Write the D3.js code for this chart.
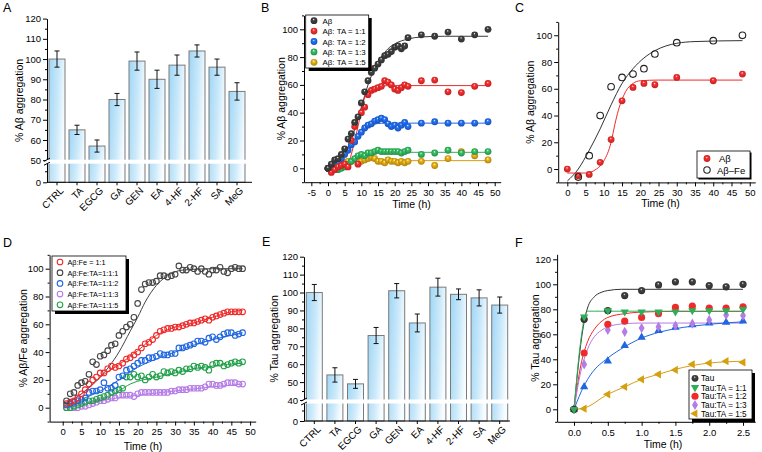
<!DOCTYPE html>
<html><head><meta charset="utf-8">
<script src="https://cdn.jsdelivr.net/npm/d3@7"></script>
<style>
body{margin:0;background:#fff;}
svg{display:block;font-family:"Liberation Sans",Arial,sans-serif;}
</style></head><body>
<svg id="c" width="762" height="452"></svg>
<script>
// ---------- DATA ----------
const barCats = ["CTRL","TA","EGCG","GA","GEN","EA","4-HF","2-HF","SA","MeG"];
const abBarVals = [100,65,57,80,99,90,97,104,96,84];
const abBarErr  = [4,2.3,3,3,4.5,4.5,5,3,4,4.3];
const tauBarVals = [100,54,49,76,101,83,103,99,97,93];
const tauBarErr  = [4.5,4,2.5,4.5,4,5,5,3,4.5,4.5];

const bTimes = [0,1,2,3,4,5,6,7,8,9,10,11,12,13,14,15,16,17,18,19,20,21,22,23,24,28,32,36,40,44,48];
const bAb   = [0,3,6,7,10,14,21,25,33,37,47,55,63,69,72,75,78,81,82,84,87,88,86,88,94,96,95,98,93,96,100];
const bTA11 = [0,-3,-1,1,2,3,1,20,30,3,40,44,53,56,57,58,59,63,62,60,57,56,58,60,59,63,63.5,55,54.5,59,61];
const bTA12 = [0,2,3,4,7,10,13,17,19,23,26,29,31,32,34,35,36,35,32,30,31,29,31,33,30,32.5,33.5,32.5,32.5,32.5,33.5];
const bTA13 = [0,-2,-1,-1,0,1,3,5,7,9,10,9,11,11,12,13,12,12,12,12,12,12,11,12,13,10,11,13,11,12,12];
const bTA15 = [0,1,2,3,3,4,5,5,6,5,5,6,7,8,7,5,5,4,6,5,5,4,5,4,5,5,2,7,12,9,6];
const bFitAb   = [[0,-3],[2,0],[4,6],[6,15],[8,28],[10,44],[12,60],[14,72],[16,80],[18,86],[20,89.5],[24,93],[28,94.5],[35,95],[48,95]];
const bFitTA11 = [[0,-2],[4,-1.5],[6,3],[7,10],[8,20],[9,30],[10,42],[11,51],[12,56],[14,59],[20,59.5],[48,59.5]];
const bFitTA12 = [[0,-1],[2,1],[4,5],[6,11],[8,19],[10,26],[12,30],[14,32],[18,32.5],[48,32.5]];
const bFitTA13 = [[0,-2],[3,0],[5,3],[7,6.5],[9,9.5],[11,11],[14,11.5],[48,11.5]];
const bFitTA15 = [[0,0],[2,2],[4,3.5],[6,4.5],[8,5],[12,5.5],[48,5.5]];
const bNames = ["Aβ","Aβ: TA = 1:1","Aβ: TA = 1:2","Aβ: TA = 1:3","Aβ: TA = 1:5"];

const cTimes   = [0,3,6,9,12,15,18,21,24,30,40,48];
const cAb      = [0,-5,-4,5,22,51,61,64,63,68.5,66,71];
const cFeTimes = [3,6,9,12,15,18,21,24,30,40,48];
const cAbFe    = [-6,10,40,61.5,68.5,71,75,86,94.5,96,100];
const cFitAb   = [[0,-3],[5,-3],[8,0],[10,6],[12,20],[13,33],[14,44],[15,52],[16,58],[18,64],[20,66],[25,66.5],[48,66.5]];
const cFitAbFe = [[0,-9],[3,0],[6,14],[9,30],[12,48],[15,64],[18,75],[21,83],[24,88.5],[27,92],[30,94],[35,95.3],[48,96]];

const dTimes = [1,2,3,4,5,6,7,8,9,10,11,12,13,14,15,16,17,18,19,20,21,22,23,24,25,26,27,28,29,30,31,32,33,34,35,36,37,38,39,40,41,42,43,44,45,46,47,48];
const dFe11  = [3,4,5,7,10,13,17,20,22,25,25,28,30,29,30,32,35,36,38,40,43,46,47,49,52,55,56,57,57,58,58,59,60,61,61,62,63,64,63,65,66,67,68,69,69,69,69,69];
const dTA111 = [5,10,11,16,18,19,24,33,31,37,38,41,45,46,52,55,58,60,65,75,85,89,90,90,91,95,95,94,95,96,102,99,99,101,100,98,100,98,96,99,99,101,98,97,100,101,100,100];
const dTA112 = [2,3,4,5,6,7,11,12,12,13,18,14,14,16,22,23,27,28,30,32,34,34,36,36,37,39,38,38,39,39,43,43,44,45,46,48,48,47,50,51,49,51,53,54,54,52,53,54];
const dTA113 = [0,0,0,0,1,1,2,3,4,5,5,6,7,7,9,9,9,9,8,10,11,11,11,11,11,11,11,11,12,12,13,13,13,14,14,14,14,15,17,17,16,16,17,18,18,18,17,17];
const dTA115 = [0,0,1,2,3,4,5,5,6,7,8,9,11,12,13,14,22,22,24,22,23,20,22,24,22,23,26,25,26,25,27,26,28,28,30,29,30,29,27,31,32,32,30,31,32,33,32,33];
const dFitFe11  = [[1,3],[5,10],[10,22],[15,31],[20,41],[25,52],[30,58],[35,61],[40,65],[45,69],[48,70]];
const dFitTA111 = [[1,3],[5,10],[10,22],[15,40],[18,55],[20,65],[22,76],[25,88],[28,95],[32,99],[40,100],[48,100]];
const dFitTA112 = [[1,2],[5,6],[10,12],[15,20],[20,29],[25,35],[30,40],[35,45],[40,49],[45,52],[48,54]];
const dFitTA113 = [[1,0],[10,5],[20,9],[30,12],[40,15],[48,17]];
const dFitTA115 = [[1,0],[5,2],[10,6],[15,12],[18,17],[20,19],[25,22],[30,25],[35,28],[40,30],[48,32]];
const dNames = ["Aβ:Fe = 1:1","Aβ:Fe:TA=1:1:1","Aβ:Fe:TA=1:1:2","Aβ:Fe:TA=1:1:3","Aβ:Fe:TA=1:1:5"];

const fTimes = [0,0.15,0.5,0.75,1.0,1.25,1.5,1.75,2.0,2.25,2.5];
const fTau   = [0,72,79,91,95,99.5,102,102,99,98,100];
const fTA11  = [0,74,79,78,78,78,78,79,79,79,80];
const fTA12  = [0,45,68,70.5,73.5,76.5,81.5,82.5,81,81,82];
const fTA13  = [0,36,63.5,62,65,66,67,68.5,71.5,75.5,75];
const fTA14  = [0,18,38.5,51,57.5,63,65.5,67.5,69,69.5,70.5];
const fTA15  = [0,0.5,12,18,24,28,31.5,36,37,38.5,37.5];
const fFitTau  = [[0,0],[0.05,28],[0.1,52],[0.15,70],[0.2,81],[0.3,90],[0.4,93.5],[0.5,95],[0.7,96],[2.5,96]];
const fFitTA11 = [[0,0],[0.1,55],[0.15,72],[0.2,78.5],[0.3,78.5],[2.5,78.5]];
const fFitTA12 = [[0,0],[0.1,35],[0.2,54],[0.3,64],[0.4,70],[0.5,73.5],[0.75,76.5],[1,77.8],[1.5,78.3],[2.5,78.3]];
const fFitTA13 = [[0,0],[0.1,30],[0.2,48],[0.3,58],[0.4,63],[0.5,66],[0.75,68.5],[1,69],[2.5,69]];
const fFitTA14 = [[0,0],[0.15,19],[0.25,28],[0.5,41],[0.75,50],[1,57],[1.25,61.5],[1.5,64.5],[1.75,66.5],[2,68],[2.5,70]];
const fFitTA15 = [[0,0],[0.15,1],[0.5,12],[0.75,18],[1,24],[1.25,28],[1.5,32],[1.75,35],[2,37],[2.25,38],[2.5,38.5]];
const fNames = ["Tau","Tau:TA = 1:1","Tau:TA = 1:2","Tau:TA = 1:3","Tau:TA = 1:5"];

// ---------- SETUP ----------
const svg = d3.select("#c");
const defs = svg.append("defs");
const COL = {black:"#3a3a3a", red:"#ee2a2a", blue:"#1f66e0", green:"#2fae5a", gold:"#d4a010", purple:"#b57be6", dgreen:"#22a04a"};

const bg = defs.append("linearGradient").attr("id","barGrad").attr("x1","0").attr("y1","0").attr("x2","1").attr("y2","0.35");
bg.append("stop").attr("offset","0%").attr("stop-color","#9ed6f6");
bg.append("stop").attr("offset","60%").attr("stop-color","#cbe9fa");
bg.append("stop").attr("offset","100%").attr("stop-color","#f6fcff");

function sphereGrad(id, color){
  const g = defs.append("radialGradient").attr("id",id).attr("cx","50%").attr("cy","50%").attr("r","55%").attr("fx","45%").attr("fy","30%");
  g.append("stop").attr("offset","0%").attr("stop-color","#ffffff");
  g.append("stop").attr("offset","28%").attr("stop-color",d3.color(color).brighter(0.4));
  g.append("stop").attr("offset","100%").attr("stop-color",d3.color(color).darker(0.7));
}
Object.entries(COL).forEach(([k,v])=>sphereGrad("sph-"+k,v));

function txt(s,x,y,size,opts={}){
  const t = svg.append("text").attr("x",x).attr("y",y).attr("font-size",size).attr("fill","#000").text(s);
  if(opts.anchor) t.attr("text-anchor",opts.anchor);
  if(opts.rot) t.attr("transform",`rotate(${opts.rot},${x},${y})`);
  return t;
}
const fmtInt = d => String(d);

function styleAxis(g){
  g.selectAll("text").attr("font-size",9.5).attr("fill","#000").attr("font-family",'"Liberation Sans",Arial,sans-serif');
  g.selectAll("line,path").attr("stroke","#000").attr("stroke-width",1);
}

function xyAxes(x,y,xt,xm,yt,ym,fx){
  const yb = y.range()[0], xl = x.range()[0];
  styleAxis(svg.append("g").attr("transform",`translate(0,${yb})`)
    .call(d3.axisBottom(x).tickValues(xt).tickFormat(fx||fmtInt).tickSize(4).tickSizeOuter(0).tickPadding(3)));
  const m1 = svg.append("g").attr("transform",`translate(0,${yb})`)
    .call(d3.axisBottom(x).tickValues(xm).tickFormat("").tickSize(2).tickSizeOuter(0));
  m1.select(".domain").remove(); styleAxis(m1);
  styleAxis(svg.append("g").attr("transform",`translate(${xl},0)`)
    .call(d3.axisLeft(y).tickValues(yt).tickFormat(fmtInt).tickSize(4).tickSizeOuter(0).tickPadding(2)));
  const m2 = svg.append("g").attr("transform",`translate(${xl},0)`)
    .call(d3.axisLeft(y).tickValues(ym).tickFormat("").tickSize(2).tickSizeOuter(0));
  m2.select(".domain").remove(); styleAxis(m2);
}

function fitLine(x,y,pts,color,w){
  svg.append("path").datum(pts).attr("fill","none").attr("stroke",color).attr("stroke-width",w||1)
    .attr("d",d3.line().x(d=>x(d[0])).y(d=>y(d[1])).curve(d3.curveMonotoneX));
}
function spheres(x,y,ts,vs,key,r){
  svg.append("g").selectAll("circle").data(vs).join("circle")
    .attr("cx",(d,i)=>x(ts[i])).attr("cy",d=>y(d)).attr("r",r)
    .attr("fill",`url(#sph-${key})`);
}
function openCircles(x,y,ts,vs,color,r){
  svg.append("g").selectAll("circle").data(vs).join("circle")
    .attr("cx",(d,i)=>x(ts[i])).attr("cy",d=>y(d)).attr("r",r)
    .attr("fill","none").attr("stroke",color).attr("stroke-width",1.1);
}
function symbols(x,y,ts,vs,type,rot,color,size){
  svg.append("g").selectAll("path").data(vs).join("path")
    .attr("d",d3.symbol().type(type).size(size))
    .attr("transform",(d,i)=>`translate(${x(ts[i])},${y(d)}) rotate(${rot})`)
    .attr("fill",color);
}
function legendBox(x,y,w,h,sh){
  if(sh) svg.append("rect").attr("x",x+sh).attr("y",y+sh).attr("width",w).attr("height",h).attr("fill","#000");
  svg.append("rect").attr("x",x).attr("y",y).attr("width",w).attr("height",h).attr("fill","#fff").attr("stroke","#000").attr("stroke-width",0.8);
}

// ---------- BAR PANELS ----------
function barPanel(vals,errs,yScale,xRange,axisEnd,yt,ym,brk,titleX,title){
  const x = d3.scaleBand().domain(barCats).range(xRange).padding(0);
  const y0 = yScale.range()[0], xl = xRange[0], bw = 16;
  const cx = c => x(c)+x.bandwidth()/2;
  svg.append("g").selectAll("rect").data(vals).join("rect")
    .attr("x",(d,i)=>cx(barCats[i])-bw/2).attr("y",d=>yScale(d))
    .attr("width",bw).attr("height",d=>y0-yScale(d))
    .attr("fill","url(#barGrad)").attr("stroke","#7a7a7a").attr("stroke-width",1);
  const eg = svg.append("g").attr("stroke","#111").attr("stroke-width",1);
  vals.forEach((v,i)=>{
    const c = cx(barCats[i]);
    eg.append("line").attr("x1",c).attr("x2",c).attr("y1",yScale(v+errs[i])).attr("y2",yScale(v-errs[i]));
    eg.append("line").attr("x1",c-2.5).attr("x2",c+2.5).attr("y1",yScale(v+errs[i])).attr("y2",yScale(v+errs[i]));
    eg.append("line").attr("x1",c-2.5).attr("x2",c+2.5).attr("y1",yScale(v-errs[i])).attr("y2",yScale(v-errs[i]));
  });
  const ax = svg.append("g").attr("transform",`translate(0,${y0})`)
    .call(d3.axisBottom(x).tickSize(3).tickSizeOuter(0).tickFormat(""));
  styleAxis(ax);
  ax.select(".domain").attr("d",`M${xl},0H${axisEnd}`);
  barCats.forEach(c=>{
    const px = cx(c)+7, py = y0+9;
    svg.append("text").attr("x",px).attr("y",py).attr("text-anchor","end").attr("font-size",9.8)
      .attr("transform",`rotate(-45,${px},${py})`).text(c);
  });
  styleAxis(svg.append("g").attr("transform",`translate(${xl},0)`)
    .call(d3.axisLeft(yScale).tickValues(yt).tickFormat(fmtInt).tickSize(4).tickSizeOuter(0).tickPadding(2)));
  const m = svg.append("g").attr("transform",`translate(${xl},0)`)
    .call(d3.axisLeft(yScale).tickValues(ym).tickFormat("").tickSize(2).tickSizeOuter(0));
  m.select(".domain").remove(); styleAxis(m);
  const yb = yScale(brk);
  svg.append("rect").attr("x",xl-0.8).attr("y",yb-0.5).attr("width",axisEnd-xl+2).attr("height",4).attr("fill","#fff");
  svg.append("line").attr("x1",xl-3).attr("x2",xl+3).attr("y1",yb+1).attr("y2",yb-2).attr("stroke","#000");
  svg.append("line").attr("x1",xl-3).attr("x2",xl+3).attr("y1",yb+5).attr("y2",yb+2).attr("stroke","#000");
  txt(title,titleX,(yScale(yt[yt.length-1])+y0)/2,10.5,{anchor:"middle",rot:-90});
}

const yA = d3.scaleLinear().domain([0,50,120]).range([182.3,160.2,18.6]);
barPanel(abBarVals,abBarErr,yA,[47,247],252,[0,50,60,70,80,90,100,110,120],[25,55,65,75,85,95,105,115],50,23.5,"% Aβ aggregation");

const yE = d3.scaleLinear().domain([0,40,120]).range([421,400,256.7]);
barPanel(tauBarVals,tauBarErr,yE,[304,510],510,[0,40,50,60,70,80,90,100,110,120],[20,45,55,65,75,85,95,105,115],40,278.5,"% Tau aggregation");

// ---------- PANEL B ----------
{
  const x = d3.scaleLinear().domain([-7.2,51.8]).range([304,500.7]);
  const y = d3.scaleLinear().domain([-10,110]).range([182.2,15.4]);
  xyAxes(x,y,d3.range(-5,51,5),d3.range(-2.5,51,5),[0,20,40,60,80,100],[-10,10,30,50,70,90,110]);
  fitLine(x,y,bFitAb,COL.black); fitLine(x,y,bFitTA11,COL.red); fitLine(x,y,bFitTA12,COL.blue);
  fitLine(x,y,bFitTA13,COL.green); fitLine(x,y,bFitTA15,COL.gold);
  spheres(x,y,bTimes,bTA15,"gold",3.4); spheres(x,y,bTimes,bTA13,"green",3.4);
  spheres(x,y,bTimes,bTA12,"blue",3.4); spheres(x,y,bTimes,bTA11,"red",3.4);
  spheres(x,y,bTimes,bAb,"black",3.4);
  legendBox(305.7,15,63,53,3);
  const keys=["black","red","blue","green","gold"];
  bNames.forEach((n,i)=>{
    const yy = 20.7+i*10.4;
    svg.append("circle").attr("cx",314).attr("cy",yy).attr("r",3.4).attr("fill",`url(#sph-${keys[i]})`);
    txt(n,322.5,yy+3,7.9);
  });
  txt("Time (h)",411.5,208,10.5,{anchor:"middle"});
  txt("% Aβ aggregation",285,(y(110)+y(-10))/2,10.5,{anchor:"middle",rot:-90});
}

// ---------- PANEL C ----------
{
  const x = d3.scaleLinear().domain([-2.5,51.5]).range([558.2,755.2]);
  const y = d3.scaleLinear().domain([-10,110]).range([182.4,21.9]);
  xyAxes(x,y,d3.range(0,51,5),d3.range(2.5,51,5),[0,20,40,60,80,100],[-10,10,30,50,70,90,110]);
  fitLine(x,y,cFitAbFe,"#333"); fitLine(x,y,cFitAb,COL.red);
  spheres(x,y,cTimes,cAb,"red",3.4);
  openCircles(x,y,cFeTimes,cAbFe,"#222",3.3);
  legendBox(697,151,53,27,1.5);
  svg.append("circle").attr("cx",707).attr("cy",158.5).attr("r",3.4).attr("fill","url(#sph-red)");
  txt("Aβ",719,162,9.5);
  svg.append("circle").attr("cx",707).attr("cy",170).attr("r",3.2).attr("fill","none").attr("stroke","#222").attr("stroke-width",1.1);
  txt("Aβ–Fe",717,173.5,9.5);
  txt("Time (h)",660.5,207,10.5,{anchor:"middle"});
  txt("% Aβ aggregation",534.5,(y(110)+y(-10))/2,10.5,{anchor:"middle",rot:-90});
}

// ---------- PANEL D ----------
{
  const x = d3.scaleLinear().domain([-3.5,51.5]).range([49.6,255.7]);
  const y = d3.scaleLinear().domain([-10,110]).range([421.6,254.8]);
  xyAxes(x,y,d3.range(0,51,5),d3.range(2.5,51,5),[0,20,40,60,80,100],[-10,10,30,50,70,90,110]);
  fitLine(x,y,dFitTA111,"#444"); fitLine(x,y,dFitFe11,COL.red); fitLine(x,y,dFitTA112,COL.blue);
  fitLine(x,y,dFitTA115,COL.dgreen); fitLine(x,y,dFitTA113,COL.purple);
  openCircles(x,y,dTimes,dTA113,COL.purple,2.8);
  openCircles(x,y,dTimes,dTA115,COL.dgreen,2.8);
  openCircles(x,y,dTimes,dTA112,COL.blue,2.8);
  openCircles(x,y,dTimes,dFe11,COL.red,2.8);
  openCircles(x,y,dTimes,dTA111,"#444",2.8);
  legendBox(52,256,74,55,3);
  const cols=[COL.red,"#444",COL.blue,COL.purple,COL.dgreen];
  dNames.forEach((n,i)=>{
    const yy = 262+i*10.7;
    svg.append("circle").attr("cx",60).attr("cy",yy).attr("r",2.8).attr("fill","none").attr("stroke",cols[i]).attr("stroke-width",1.1);
    txt(n,67.5,yy+3,7.3);
  });
  txt("Time (h)",143,450,10.5,{anchor:"middle"});
  txt("% Aβ/Fe aggregation",27,(y(110)+y(-10))/2,10.5,{anchor:"middle",rot:-90});
}

// ---------- PANEL F ----------
{
  const x = d3.scaleLinear().domain([-0.25,2.68]).range([557.1,755.2]);
  const y = d3.scaleLinear().domain([-10,124]).range([421.8,254.3]);
  xyAxes(x,y,[0,0.5,1,1.5,2,2.5],[0.25,0.75,1.25,1.75,2.25],[0,20,40,60,80,100,120],[-10,10,30,50,70,90,110],d3.format(".1f"));
  fitLine(x,y,fFitTau,"#333"); fitLine(x,y,fFitTA12,COL.red); fitLine(x,y,fFitTA13,COL.purple);
  fitLine(x,y,fFitTA14,COL.blue); fitLine(x,y,fFitTA15,COL.gold); fitLine(x,y,fFitTA11,COL.green);
  symbols(x,y,fTimes,fTA15,d3.symbolTriangle,-90,COL.gold,30);
  symbols(x,y,fTimes,fTA14,d3.symbolTriangle,0,COL.blue,30);
  symbols(x,y,fTimes,fTA13,d3.symbolDiamond,0,COL.purple,30);
  symbols(x,y,fTimes,fTA12,d3.symbolCircle,0,COL.red,40);
  spheres(x,y,fTimes,fTau,"black",3.6);
  symbols(x,y,fTimes,fTA11,d3.symbolTriangle,180,COL.green,30);
  legendBox(689,370,63,49,3);
  const ly = [378.3,387.5,396.3,405,413.6];
  svg.append("circle").attr("cx",695).attr("cy",ly[0]).attr("r",3.4).attr("fill","url(#sph-black)");
  svg.append("path").attr("d",d3.symbol().type(d3.symbolTriangle).size(30)).attr("transform",`translate(695,${ly[1]}) rotate(180)`).attr("fill",COL.green);
  svg.append("path").attr("d",d3.symbol().type(d3.symbolCircle).size(40)).attr("transform",`translate(695,${ly[2]})`).attr("fill",COL.red);
  svg.append("path").attr("d",d3.symbol().type(d3.symbolDiamond).size(30)).attr("transform",`translate(695,${ly[3]})`).attr("fill",COL.purple);
  svg.append("path").attr("d",d3.symbol().type(d3.symbolTriangle).size(30)).attr("transform",`translate(695,${ly[4]}) rotate(-90)`).attr("fill",COL.gold);
  fNames.forEach((n,i)=>txt(n,701,ly[i]+3,8.2));
  txt("Time (h)",663,448,10.5,{anchor:"middle"});
  txt("% Tau aggregation",539,(y(124)+y(-10))/2,10.5,{anchor:"middle",rot:-90});
}

// ---------- PANEL LETTERS ----------
txt("A",3,12,12.5); txt("B",261,12,12.5); txt("C",515,12,12.5);
txt("D",3,247,12.5); txt("E",262,246,12.5); txt("F",515,247,12.5);
</script></body></html>
